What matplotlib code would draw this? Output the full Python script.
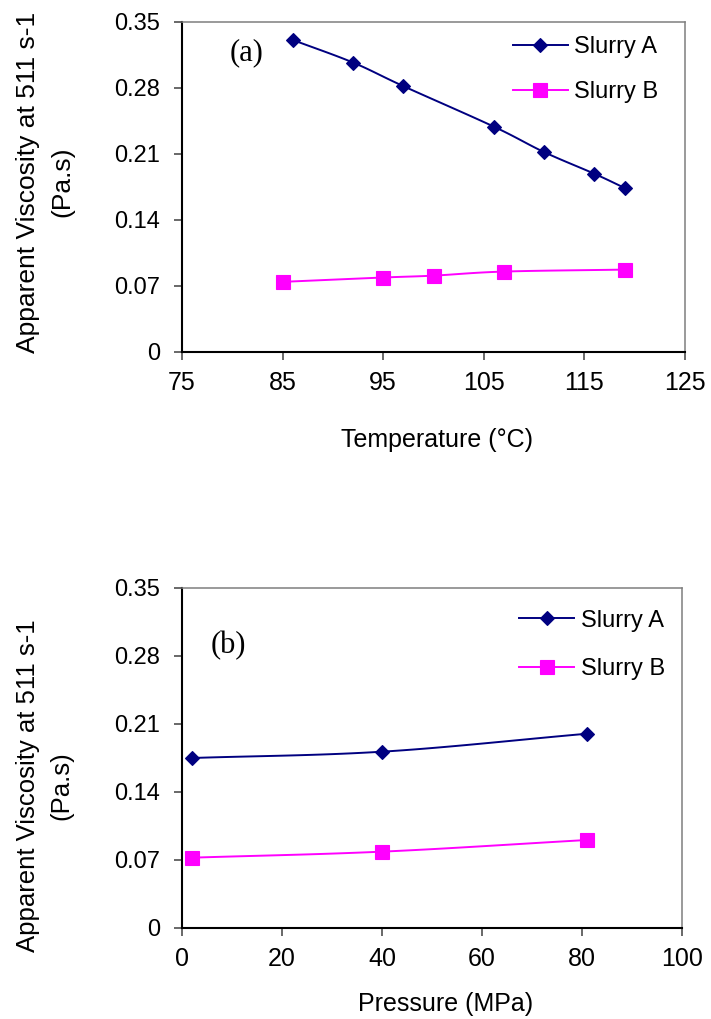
import numpy as np
import matplotlib
matplotlib.use("Agg")
import matplotlib.pyplot as plt
from matplotlib.lines import Line2D

# (a) viscosity vs temperature
temp_a = [86, 92, 97, 106, 111, 116, 119]
visc_a_temp = [0.331, 0.307, 0.282, 0.239, 0.212, 0.189, 0.174]
temp_b = [85, 95, 100, 107, 119]
visc_b_temp = [0.0744, 0.079, 0.081, 0.0853, 0.0874]

# (b) viscosity vs pressure
pres = [2, 40, 81]
visc_a_pres = [0.175, 0.1815, 0.200]
visc_b_pres = [0.0724, 0.0786, 0.0906]

yticks = [0, 0.07, 0.14, 0.21, 0.28, 0.35]
ytick_labels = ["0", "0.07", "0.14", "0.21", "0.28", "0.35"]
ylabel = "Apparent Viscosity at 511 s-1\n(Pa.s)"

NAVY = "#000080"
MAGENTA = "#FF00FF"
plt.rcParams["font.family"] = ["Liberation Sans", "DejaVu Sans"]

W, H = 711, 1019


def smooth(x, y, n=20):
    # Catmull-Rom spline through the points (like a smoothed line in a spreadsheet)
    x = np.asarray(x, float)
    y = np.asarray(y, float)
    px = np.concatenate([[2 * x[0] - x[1]], x, [2 * x[-1] - x[-2]]])
    py = np.concatenate([[2 * y[0] - y[1]], y, [2 * y[-1] - y[-2]]])
    xs, ys = [], []
    t = np.linspace(0, 1, n)
    for i in range(1, len(px) - 2):
        for p, out in ((px, xs), (py, ys)):
            p0, p1, p2, p3 = p[i - 1], p[i], p[i + 1], p[i + 2]
            seg = 0.5 * ((2 * p1) + (-p0 + p2) * t
                         + (2 * p0 - 5 * p1 + 4 * p2 - p3) * t ** 2
                         + (-p0 + 3 * p1 - 3 * p2 + p3) * t ** 3)
            out.extend(seg)
    return np.array(xs), np.array(ys)


def style_axes(ax, xlim, xticks, xlabel, xlab_pos, ylab_pos, ylab_size):
    ax.set_xlim(*xlim)
    ax.set_ylim(0, 0.35)
    ax.set_xticks(xticks)
    ax.set_yticks(yticks)
    ax.set_yticklabels(ytick_labels)
    for s in ("top", "right"):
        ax.spines[s].set_color("#7f7f7f")
        ax.spines[s].set_linewidth(1.1)
    for s in ("left", "bottom"):
        ax.spines[s].set_color("black")
        ax.spines[s].set_linewidth(1.5)
    ax.tick_params(axis="x", direction="out", length=6, width=1.1,
                   labelsize=18, pad=8, color="#404040")
    ax.tick_params(axis="y", direction="out", length=6, width=1.1,
                   labelsize=17, pad=10, color="#404040")
    ax.set_xlabel(xlabel, fontsize=18, va="center")
    ax.xaxis.set_label_coords(*xlab_pos)
    ax.set_ylabel(ylabel, fontsize=ylab_size, linespacing=1.5,
                  va="center", ha="center", multialignment="center")
    ax.yaxis.set_label_coords(*ylab_pos)


def draw_series(ax, x, y, color, marker, ms, label):
    sx, sy = smooth(x, y)
    ax.plot(sx, sy, color=color, lw=1.4, zorder=2)
    ax.plot(x, y, ls="none", marker=marker, color=color, ms=ms, mew=0.8,
            zorder=3, clip_on=False)
    return Line2D([], [], color=color, lw=1.4, marker=marker, ms=ms, mew=0.8,
                  label=label)


fig = plt.figure(figsize=(W / 100, H / 100), dpi=100)
ax1 = fig.add_axes([182 / W, 1 - 352 / H, 503 / W, 330 / H])
ax2 = fig.add_axes([182 / W, 1 - 928 / H, 500 / W, 340 / H])

h1 = draw_series(ax1, temp_a, visc_a_temp, NAVY, "D", 6.8, "Slurry A")
h2 = draw_series(ax1, temp_b, visc_b_temp, MAGENTA, "s", 9.5, "Slurry B")
style_axes(ax1, (75, 125), [75, 85, 95, 105, 115, 125], "Temperature (\u00b0C)",
           (0.507, -0.267), (-0.272, 0.515), 19)
ax1.legend(handles=[h1, h2], loc="upper left", bbox_to_anchor=(0.658, 0.958),
           frameon=False, fontsize=17, labelspacing=1.0, handlelength=2.33,
           handletextpad=0.25, borderpad=0, borderaxespad=0)
ax1.text(0.128, 0.907, "(a)", transform=ax1.transAxes, fontsize=22,
         family="Liberation Serif", ha="center", va="center")

h3 = draw_series(ax2, pres, visc_a_pres, NAVY, "D", 6.8, "Slurry A")
h4 = draw_series(ax2, pres, visc_b_pres, MAGENTA, "s", 9.5, "Slurry B")
style_axes(ax2, (0, 100), [0, 20, 40, 60, 80, 100], "Pressure (MPa)",
           (0.527, -0.225), (-0.274, 0.42), 18.5)
ax2.legend(handles=[h3, h4], loc="upper left", bbox_to_anchor=(0.674, 0.936),
           frameon=False, fontsize=17, labelspacing=1.13, handlelength=2.33,
           handletextpad=0.3, borderpad=0, borderaxespad=0)
ax2.text(0.092, 0.83, "(b)", transform=ax2.transAxes, fontsize=22,
         family="Liberation Serif", ha="center", va="center")

fig.savefig("out.png", dpi=100)
